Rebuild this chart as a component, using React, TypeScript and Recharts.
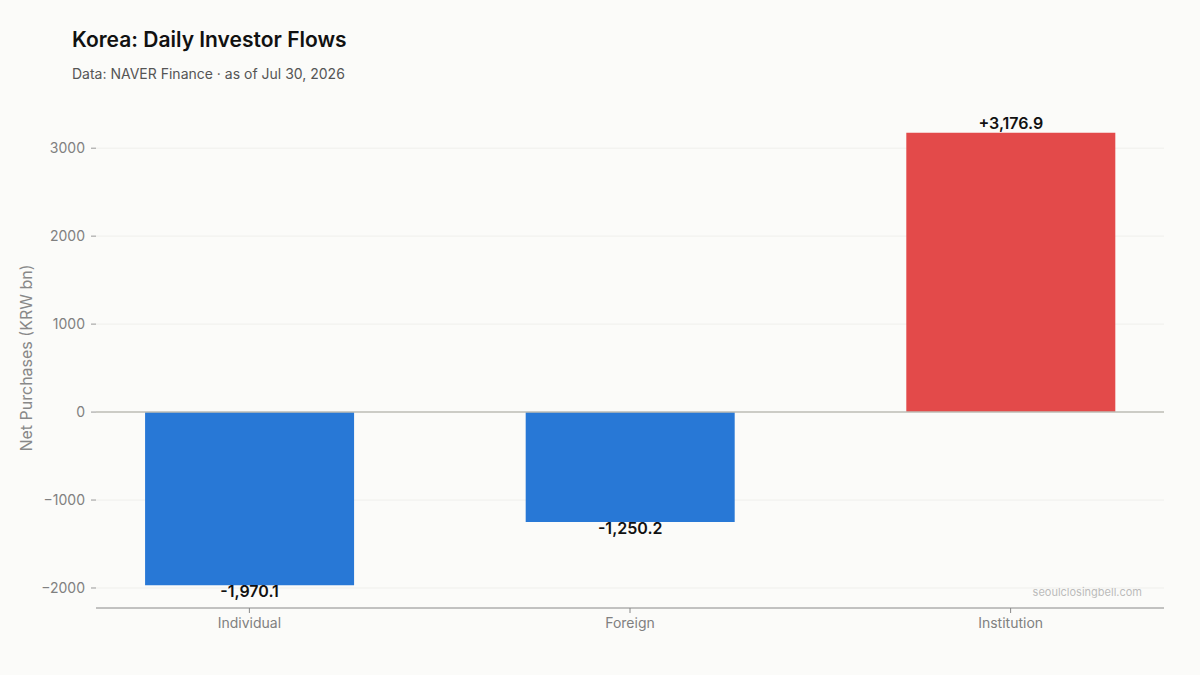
import React from 'react';
import { BarChart, Bar, XAxis, YAxis, CartesianGrid, ReferenceLine, Cell, LabelList } from 'recharts';

const categories = ['Individual', 'Foreign', 'Institution'];
const values = [-1970.1, -1250.2, 3176.9];
const yTicks = [-2000, -1000, 0, 1000, 2000, 3000];
const xTicks = [0, 1, 2];
const yDomain = [-2227.45, 3434.25];
const xDomain = [-0.403, 2.403];

const title = 'Korea: Daily Investor Flows';
const subtitle = 'Data: NAVER Finance · as of Jul 30, 2026';
const yLabel = 'Net Purchases (KRW bn)';
const watermark = 'seoulclosingbell.com';

const POS = '#e34a4a';
const NEG = '#2878d6';
const FONT = 'Inter, "Noto Sans", sans-serif';

const data = categories.map((c, i) => ({ x: i, name: c, value: values[i] }));

const fmtLabel = (v: number) => {
  const s = Math.abs(v).toLocaleString('en-US', { minimumFractionDigits: 1, maximumFractionDigits: 1 });
  return (v >= 0 ? '+' : '-') + s;
};

const fmtTick = (v: number) => (v < 0 ? '\u2212' + Math.abs(v) : String(v));

const renderLabel = (props: any) => {
  const { x, y, width, height, value } = props;
  const top = Math.min(y, y + height);
  const bottom = Math.max(y, y + height);
  const cx = x + width / 2;
  if (value >= 0) {
    return (
      <text x={cx} y={top - 4} textAnchor="middle" fontFamily={FONT} fontSize={16} fontWeight={600} fill="#111">
        {fmtLabel(value)}
      </text>
    );
  }
  return (
    <text x={cx} y={bottom + 12} textAnchor="middle" fontFamily={FONT} fontSize={16} fontWeight={600} fill="#111">
      {fmtLabel(value)}
    </text>
  );
};

export default function App() {
  return (
    <div style={{ position: 'absolute', left: 0, top: 0, width: 1200, height: 675, background: '#fbfbf9', fontFamily: FONT }}>
      <BarChart
        width={1200}
        height={675}
        data={data}
        margin={{ top: 110, right: 36, bottom: 37, left: 36 }}
      >
        <CartesianGrid
          vertical={false}
          stroke="#efefec"
          strokeWidth={1}
          horizontalValues={yTicks.filter((t) => t !== 0)}
        />
        <XAxis
          type="number"
          dataKey="x"
          domain={xDomain}
          ticks={xTicks}
          allowDataOverflow
          tickFormatter={(i: number) => categories[i] ?? ''}
          height={30}
          axisLine={{ stroke: '#888', strokeWidth: 1 }}
          tickLine={{ stroke: '#888' }}
          tickSize={5}
          tickMargin={5}
          tick={{ fill: '#808080', fontSize: 14, fontFamily: FONT }}
        />
        <YAxis
          type="number"
          domain={yDomain}
          ticks={yTicks}
          allowDataOverflow
          width={60}
          axisLine={false}
          tickLine={{ stroke: '#999' }}
          tickSize={5}
          tickMargin={6}
          tickFormatter={fmtTick}
          tick={{ fill: '#808080', fontSize: 14, fontFamily: FONT }}
        />
        <ReferenceLine y={0} stroke="#bdbdb5" strokeWidth={1.5} />
        <Bar dataKey="value" barSize={209} isAnimationActive={false}>
          {data.map((d, i) => (
            <Cell key={i} fill={d.value >= 0 ? POS : NEG} />
          ))}
          <LabelList dataKey="value" content={renderLabel} />
        </Bar>
      </BarChart>
      <svg width={1200} height={675} style={{ position: 'absolute', left: 0, top: 0, pointerEvents: 'none' }}>
        <text x={72} y={47} fontFamily={FONT} fontSize={21} fontWeight={600} fill="#111">{title}</text>
        <text x={72} y={79} fontFamily={FONT} fontSize={14} fill="#555">{subtitle}</text>
        <text
          x={0}
          y={0}
          transform="translate(32 358) rotate(-90)"
          textAnchor="middle"
          fontFamily={FONT}
          fontSize={16}
          fill="#888"
        >
          {yLabel}
        </text>
        <text x={1142} y={596} textAnchor="end" fontFamily={FONT} fontSize={11} fill="#bbb">{watermark}</text>
      </svg>
    </div>
  );
}
